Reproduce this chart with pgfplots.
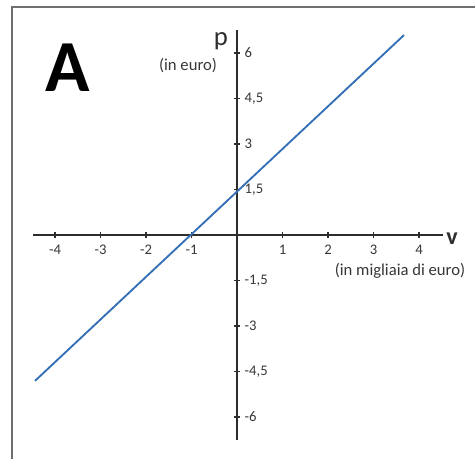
\documentclass[border=0pt]{standalone}
\usepackage{pgfplots}
\pgfplotsset{compat=1.18}
\usepackage{fontspec}
\setmainfont{Carlito}
\definecolor{lineblue}{RGB}{52,112,182}
\definecolor{framegray}{RGB}{110,110,110}
\definecolor{axisgray}{RGB}{45,45,45}
\definecolor{labgray}{RGB}{55,55,55}

\pgfplotstableread{
v p
-4.44 -4.81
3.67 6.59
}\lineAB

\begin{document}
\begin{tikzpicture}
\path[use as bounding box] (0,0) rectangle (356.25pt,344.25pt);
\begin{scope}[x=0.75pt,y=-0.75pt,shift={(0pt,344.25pt)}]
  \draw[framegray, line width=1.8pt] (12,470) -- (12,7) -- (480,7);
  \node[anchor=base, font=\fontsize{55}{55}\selectfont\bfseries] at (68,92) {A};
  \node[anchor=base, font=\fontsize{20}{20}\selectfont, text=axisgray] at (221,46) {p};
  \node[anchor=base, font=\fontsize{12.5}{12.5}\selectfont, text=labgray] at (188,71) {(in euro)};
  \node[anchor=base, font=\fontsize{18}{18}\selectfont\bfseries, text=axisgray] at (452,245) {v};
  \node[anchor=base, font=\fontsize{12.5}{12.5}\selectfont, text=labgray] at (400,276) {(in migliaia di euro)};
\end{scope}
\begin{axis}[
  at={(177.75pt,168pt)}, anchor=origin,
  x=34.125pt, y=22.75pt,
  xmin=-4.48, xmax=4.53, ymin=-6.76, ymax=6.76,
  axis lines=middle,
  axis line style={axisgray, line width=0.8pt, -},
  xtick={-4,-3,-2,-1,1,2,3,4},
  ytick={-6,-4.5,-3,-1.5,1.5,3,4.5,6},
  tick align=center,
  major tick length=4.5pt,
  tick style={axisgray, line width=0.8pt},
  /pgf/number format/assume math mode=true,
  /pgf/number format/use comma,
  ticklabel style={font=\fontsize{11}{11}\selectfont, text=labgray},
  xticklabel style={anchor=north, yshift=-1.5pt},
  yticklabel style={anchor=west, xshift=4.5pt},
  clip=false,
]
\addplot[lineblue, line width=1.4pt] table[x=v, y=p] {\lineAB};
\end{axis}
\end{tikzpicture}
\end{document}
